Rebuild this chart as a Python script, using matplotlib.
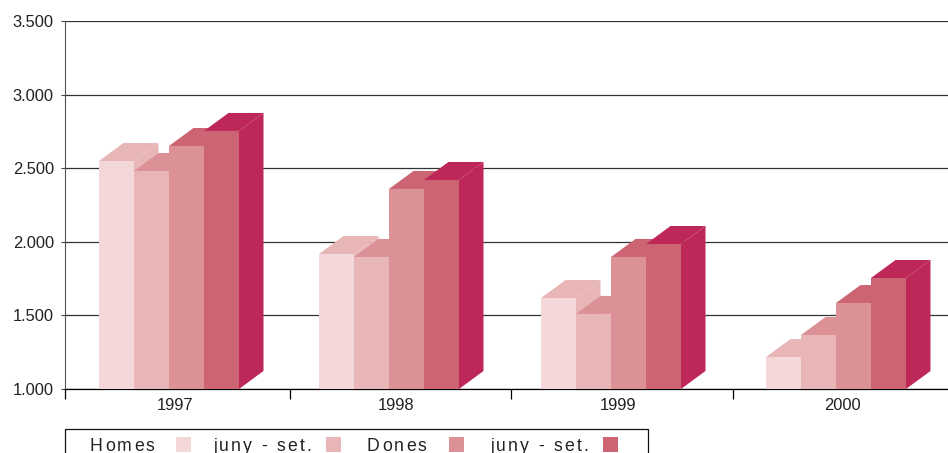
import matplotlib
matplotlib.use("Agg")
import matplotlib.pyplot as plt
from matplotlib.font_manager import FontProperties, findfont, get_font
from matplotlib.ft2font import LoadFlags
from matplotlib.patches import Polygon, Rectangle
from matplotlib.text import Text

# ---- data ----
years = ["1997", "1998", "1999", "2000"]
homes_jan_jun = [2549, 1917, 1618, 1217]
homes_jul_sep = [2481, 1897, 1510, 1367]
dones_jan_jun = [2651, 2359, 1897, 1584]
dones_jul_sep = [2753, 2420, 1985, 1754]
y_ticks = [1000, 1500, 2000, 2500, 3000, 3500]
y_tick_labels = ["1.000", "1.500", "2.000", "2.500", "3.000", "3.500"]
legend_labels = ["Homes", "juny - set.", "Dones", "juny - set."]

# ---- style / layout (pixels of the 948x453 canvas) ----
W, H = 948, 453
AX_L, AX_T, AX_B = 65, 21, 389
FONT = "Liberation Sans"
front_colors = ["#F4D8D9", "#E8B6B7", "#DB9196", "#CC6474"]
shade_colors = ["#E8B6B7", "#DB9196", "#CC6474", "#BE2859"]
side_colors = ["#E8B6B7", "#DB9196", "#CC6474", "#BE2859"]
series = [homes_jan_jun, homes_jul_sep, dones_jan_jun, dones_jul_sep]
x_tick_pos = [65, 289.5, 511, 733]
year_label_x = [175, 396, 618, 842]
group_left = [99, 319, 541, 766]
bar_w = 35
depth_x = 24.5
depth_y = 18 / (368 / 2500)


class SpacedText(Text):
    """Real text drawn with extra letter spacing (pixels)."""

    def __init__(self, *args, spacing=0.0, **kwargs):
        super().__init__(*args, **kwargs)
        self._spacing = spacing

    def draw(self, renderer):
        full = self.get_text()
        x0, y0 = self.get_position()
        font = get_font(findfont(self.get_fontproperties()))
        font.set_size(self.get_fontsize(), self.figure.dpi)
        cursor = x0
        for ch in full:
            self.set_text(ch)
            self.set_x(cursor)
            if ch != " ":
                super().draw(renderer)
            glyph = font.load_char(ord(ch), flags=LoadFlags.NO_HINTING)
            cursor += glyph.linearHoriAdvance / 65536 + self._spacing
        self.set_text(full)
        self.set_x(x0)


plt.rcParams["font.family"] = [FONT, "DejaVu Sans"]
fig = plt.figure(figsize=(W / 100, H / 100), dpi=100, facecolor="white")
ax = fig.add_axes([AX_L / W, 1 - AX_B / H, 1 - AX_L / W, (AX_B - AX_T) / H])
ax.set_xlim(AX_L, W)
ax.set_ylim(1000, 3500)

for s in ("top", "right"):
    ax.spines[s].set_visible(False)
ax.spines["left"].set_color("#555555")
ax.spines["left"].set_linewidth(0.8)
ax.spines["bottom"].set_color("#000000")
ax.spines["bottom"].set_linewidth(0.9)
ax.set_axisbelow(True)
ax.yaxis.grid(True, color="#333333", linewidth=0.9)
ax.set_yticks(y_ticks)
ax.set_yticklabels(y_tick_labels, fontsize=11.9, color="#222222")
ax.tick_params(axis="y", length=3, width=0.8, pad=5, color="#444444")
ax.set_xticks(x_tick_pos)
ax.set_xticklabels([])
ax.tick_params(axis="x", length=7, width=0.9, color="#000000")

for g, left in enumerate(group_left):
    for k, vals in enumerate(series):
        x0 = left + k * bar_w
        x1 = x0 + bar_w
        v = vals[g]
        dx, dy = depth_x, depth_y
        ax.add_patch(Polygon([(x0, v), (x0 + dx, v + dy), (x1 + dx, v + dy), (x1, v)],
                             facecolor=shade_colors[k], edgecolor="none", zorder=3 + k))
        ax.add_patch(Polygon([(x1, 1000), (x1 + dx, 1000 + dy), (x1 + dx, v + dy), (x1, v)],
                             facecolor=side_colors[k], edgecolor="none", zorder=3 + k))
        ax.add_patch(Rectangle((x0, 1000), bar_w, v - 1000,
                               facecolor=front_colors[k], edgecolor="none", zorder=3 + k))
    ax.text(year_label_x[g], 1000 - 62, years[g], fontsize=11.9, color="#222222",
            ha="center", va="top", clip_on=False)

# legend, on an overlay that uses canvas pixels
ov = fig.add_axes([0, 0, 1, 1], facecolor="none")
ov.set_xlim(0, W)
ov.set_ylim(H, 0)
ov.axis("off")
ov.add_patch(Rectangle((65.5, 428.5), 583, 40, facecolor="none", edgecolor="#111111", linewidth=0.9))
text_x = [90, 213, 367, 490]
swatch_x = [176, 326, 449, 603]
for i, label in enumerate(legend_labels):
    ov.add_patch(Rectangle((swatch_x[i], 437), 15, 15, facecolor=front_colors[i], edgecolor="none"))
    ov.add_artist(SpacedText(text_x[i], 451, label, spacing=2.2, color="#222222",
                             ha="left", va="baseline",
                             fontproperties=FontProperties(family=FONT, size=12.7)))

fig.savefig("out.png", dpi=100, facecolor="white")
